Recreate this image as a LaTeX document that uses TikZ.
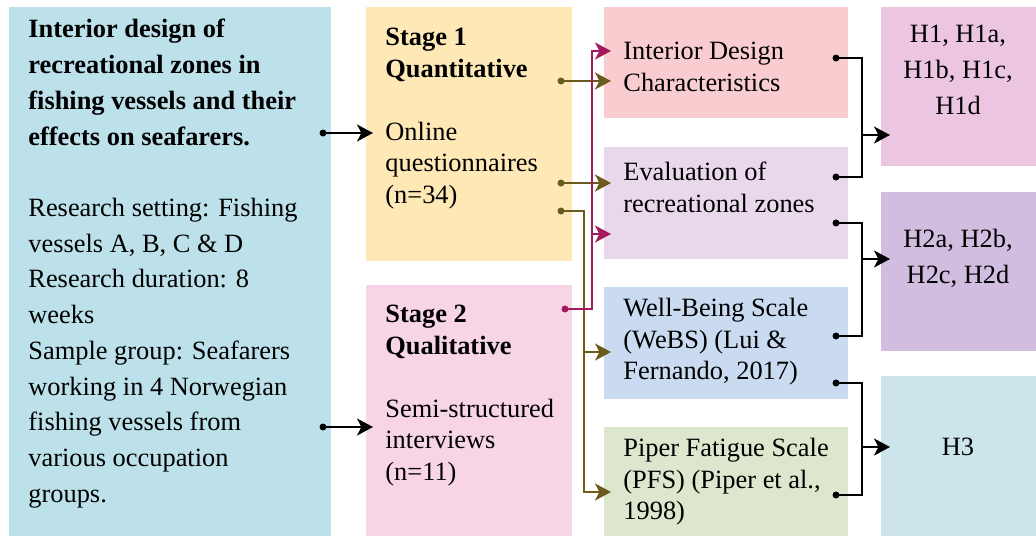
\documentclass[tikz,border=0pt]{standalone}
\usepackage{fontspec}
\setmainfont{Liberation Serif}
\usetikzlibrary{arrows.meta,fit}

\definecolor{boxL}{HTML}{BDE1EA}
\definecolor{boxSa}{HTML}{FDE8B6}
\definecolor{boxSb}{HTML}{F8D5E6}
\definecolor{boxMa}{HTML}{F9CCD0}
\definecolor{boxMb}{HTML}{E9D8EB}
\definecolor{boxMc}{HTML}{C9DAF1}
\definecolor{boxMd}{HTML}{DCE7CE}
\definecolor{boxRa}{HTML}{ECC6E1}
\definecolor{boxRb}{HTML}{D1BDDF}
\definecolor{boxRc}{HTML}{CCE5EA}
\definecolor{brn}{HTML}{6D5A1D}
\definecolor{mag}{HTML}{A4185C}

\tikzset{
  box/.style={inner sep=0pt, outer sep=0pt},
  txt/.style={inner sep=0pt, anchor=north west, align=left, font=\fontsize{13.2}{15.75}\selectfont},
  ctxt/.style={inner sep=0pt, anchor=north, align=center, font=\fontsize{13.2}{17.85}\selectfont},
  link/.style={line width=0.9pt, -{Stealth[length=8pt,width=8.5pt,inset=2.2pt]}, shorten >=-3.5pt}
}

\begin{document}
\begin{tikzpicture}[x=0.5pt,y=-0.5pt]
\useasboundingbox (0,0) rectangle (1036,536);

% boxes
\node[box,fill=boxL,fit={(9,7)(331,536)}] (lbox) {};
\node[box,fill=boxSa,fit={(366,7)(572,261)}] (s1) {};
\node[box,fill=boxSb,fit={(366,285)(572,536)}] (s2) {};
\node[box,fill=boxMa,fit={(604,7)(848,118)}] (m1) {};
\node[box,fill=boxMb,fit={(604,147)(848,259)}] (m2) {};
\node[box,fill=boxMc,fit={(604,287)(848,399)}] (m3) {};
\node[box,fill=boxMd,fit={(604,427)(848,536)}] (m4) {};
\node[box,fill=boxRa,fit={(881,7)(1036,166)}] (h1) {};
\node[box,fill=boxRb,fit={(881,192)(1036,351)}] (h2) {};
\node[box,fill=boxRc,fit={(881,376)(1036,536)}] (h3) {};

% texts
\node[txt,font=\fontsize{13.2}{17.85}\selectfont] (ltext) at (28,19)
  {\textbf{Interior design of}\\ \textbf{recreational zones in}\\
   \textbf{fishing vessels and their}\\ \textbf{effects on seafarers.}\\[17.85pt]
   Research setting: Fishing\\ vessels A, B, C \& D\\ Research duration: 8\\ weeks\\
   Sample group: Seafarers\\ working in 4 Norwegian\\ fishing vessels from\\
   various occupation\\ groups.};
\node[txt] (s1text) at (385,28)
  {\textbf{Stage 1}\\ \textbf{Quantitative}\\[15.75pt] Online\\ questionnaires\\ (n=34)};
\node[txt] (s2text) at (385,305)
  {\textbf{Stage 2}\\ \textbf{Qualitative}\\[15.75pt] Semi-structured\\ interviews\\ (n=11)};
\node[txt] (m1text) at (623,42) {Interior Design\\ Characteristics};
\node[txt] (m2text) at (623,162) {Evaluation of\\ recreational zones};
\node[txt] (m3text) at (623,298) {Well-Being Scale\\ (WeBS) (Lui \&\\ Fernando, 2017)};
\node[txt] (m4text) at (623,438) {Piper Fatigue Scale\\ (PFS) (Piper et al.,\\ 1998)};
\node[ctxt] (h1text) at (958,25) {H1, H1a,\\ H1b, H1c,\\ H1d};
\node[ctxt] (h2text) at (958,229) {H2a, H2b,\\ H2c, H2d};
\node[ctxt] (h3text) at (958,438) {H3};

% left box to stages
\coordinate (l1) at (323,133);
\coordinate (l2) at (323,427);
\fill (l1) circle (1.75pt);
\fill (l2) circle (1.75pt);
\draw[link] (l1) -- (l1 -| s1.west);
\draw[link] (l2) -- (l2 -| s2.west);

% stage 1 to measures
\coordinate (q1) at (561,81);
\coordinate (q2) at (561,183);
\coordinate (q3) at (561,211);
\coordinate (qv) at (584,0);
\fill[brn] (q1) circle (1.75pt);
\fill[brn] (q2) circle (1.75pt);
\fill[brn] (q3) circle (1.75pt);
\draw[link,brn] (q1) -- (q1 -| m1.west);
\draw[link,brn] (q2) -- (q2 -| m2.west);
\draw[link,brn] (q3) -| (qv |- 0,352) -- (m3.west |- 0,352);
\draw[link,brn] (q3) -| (qv |- 0,492) -- (m4.west |- 0,492);

% stage 2 to measures
\coordinate (i1) at (565,309);
\coordinate (iv) at (592,0);
\fill[mag] (i1) circle (1.75pt);
\draw[link,mag] (i1) -| (iv |- 0,51) -- (m1.west |- 0,51);
\draw[link,mag] (iv |- 0,234) -- (m2.west |- 0,234);
\draw[mag,line width=0.9pt] (i1) -| (iv |- 0,234);

% measures to hypotheses
\coordinate (a1) at (836,58);
\coordinate (a2) at (836,177);
\coordinate (b1) at (836,223);
\coordinate (b2) at (836,336);
\coordinate (c1) at (836,383);
\coordinate (c2) at (836,495);
\coordinate (jv) at (862,0);
\foreach \d in {a1,a2,b1,b2,c1,c2}
  \fill (\d) circle (1.75pt);
\draw[line width=0.9pt] (a1) -| (jv |- a2) -- (a2);
\draw[line width=0.9pt] (b1) -| (jv |- b2) -- (b2);
\draw[line width=0.9pt] (c1) -| (jv |- c2) -- (c2);
\draw[link,shorten >=-4.5pt] (jv |- 0,135) -- (h1.west |- 0,135);
\draw[link,shorten >=-4.5pt] (jv |- 0,259) -- (h2.west |- 0,259);
\draw[link,shorten >=-4.5pt] (jv |- 0,447) -- (h3.west |- 0,447);
\end{tikzpicture}
\end{document}
